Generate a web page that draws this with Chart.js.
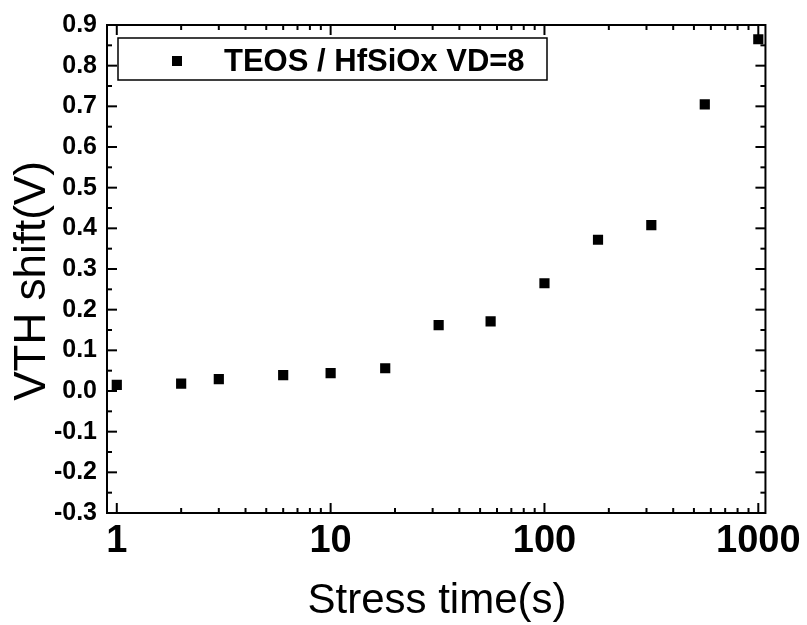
<!DOCTYPE html>
<html>
<head>
<meta charset="utf-8">
<script src="https://cdn.jsdelivr.net/npm/chart.js@4.4.1/dist/chart.umd.min.js"></script>
<style>
	html, body { margin: 0; padding: 0; background: #fff; }
</style>
</head>
<body>
<canvas id="chart" width="807" height="625"></canvas>
<script>
// data
const stressTime = [1, 2, 3, 6, 10, 18, 32, 56, 100, 178, 316, 562, 1000];
const vthShift = [0.015, 0.018, 0.029, 0.039, 0.044, 0.056, 0.162, 0.171, 0.265, 0.372, 0.408, 0.705, 0.865];
const seriesLabel = 'TEOS / HfSiOx VD=8';

const xTickValues = [1, 10, 100, 1000];
const xMinorTicks = [2, 3, 4, 5, 6, 7, 8, 9, 20, 30, 40, 50, 60, 70, 80, 90, 200, 300, 400, 500, 600, 700, 800, 900];
const yTickValues = [-0.3, -0.2, -0.1, 0.0, 0.1, 0.2, 0.3, 0.4, 0.5, 0.6, 0.7, 0.8, 0.9];
const yMinorTicks = [-0.25, -0.15, -0.05, 0.05, 0.15, 0.25, 0.35, 0.45, 0.55, 0.65, 0.75, 0.85];

const xTitle = 'Stress time(s)';
const yTitle = 'VTH shift(V)';

const FONT = '"Liberation Sans", Arial, sans-serif';

let points = stressTime.map((t, i) => ({ x: t, y: vthShift[i] }));

// frame, inward ticks, legend box and axis titles
let framePlugin = {
	id: 'frame',
	afterDraw(chart) {
		let ctx = chart.ctx;
		let a = chart.chartArea;
		let xs = chart.scales.x;
		let ys = chart.scales.y;
		ctx.save();
		ctx.strokeStyle = '#000';
		ctx.lineWidth = 2;
		ctx.strokeRect(a.left, a.top, a.right - a.left, a.bottom - a.top);

		let tick = (x1, y1, x2, y2) => {
			ctx.beginPath();
			ctx.moveTo(x1, y1);
			ctx.lineTo(x2, y2);
			ctx.stroke();
		};
		xTickValues.forEach(v => {
			let px = xs.getPixelForValue(v);
			tick(px, a.bottom, px, a.bottom - 10);
			tick(px, a.top, px, a.top + 10);
		});
		xMinorTicks.forEach(v => {
			let px = xs.getPixelForValue(v);
			tick(px, a.bottom, px, a.bottom - 5);
			tick(px, a.top, px, a.top + 5);
		});
		yTickValues.forEach(v => {
			let py = ys.getPixelForValue(v);
			tick(a.left, py, a.left + 10, py);
			tick(a.right, py, a.right - 10, py);
		});
		yMinorTicks.forEach(v => {
			let py = ys.getPixelForValue(v);
			tick(a.left, py, a.left + 5, py);
			tick(a.right, py, a.right - 5, py);
		});

		// legend
		let lx = a.left + 11;
		let ly = a.top + 13;
		ctx.lineWidth = 1.5;
		ctx.strokeRect(lx, ly, 429, 42);
		ctx.fillStyle = '#000';
		ctx.fillRect(lx + 54, ly + 18, 10, 10);
		ctx.font = 'bold 31px ' + FONT;
		ctx.textAlign = 'left';
		ctx.textBaseline = 'alphabetic';
		ctx.fillText(chart.data.datasets[0].label, lx + 106, ly + 33);

		// axis titles
		ctx.font = '42px ' + FONT;
		ctx.textAlign = 'center';
		ctx.fillText(xTitle, 437, 613);
		ctx.save();
		ctx.translate(45, 281);
		ctx.rotate(-Math.PI / 2);
		ctx.font = '44px ' + FONT;
		ctx.fillText(yTitle, 0, 0);
		ctx.restore();
		ctx.restore();
	}
};

let config = {
	type: 'scatter',
	data: {
		datasets: [{
			label: seriesLabel,
			data: points,
			pointStyle: 'rect',
			pointRadius: 7.2,
			pointBorderWidth: 0,
			backgroundColor: '#000',
			borderColor: '#000'
		}]
	},
	options: {
		responsive: false,
		animation: false,
		devicePixelRatio: 1,
		layout: { padding: { top: 22, right: 40, left: 0, bottom: 0 } },
		plugins: {
			legend: { display: false },
			tooltip: { enabled: false }
		},
		scales: {
			x: {
				type: 'logarithmic',
				min: 0.9,
				max: 1080,
				grid: { display: false, drawTicks: false },
				border: { display: false },
				afterBuildTicks: (scale) => {
					scale.ticks = xTickValues.map(v => ({ value: v, major: true }));
				},
				afterFit: (scale) => { scale.height = 112; },
				ticks: {
					autoSkip: false,
					maxRotation: 0,
					padding: 6,
					color: '#000',
					font: { family: FONT, size: 38, weight: 'bold' },
					callback: (v) => String(v)
				}
			},
			y: {
				min: -0.3,
				max: 0.9,
				grid: { display: false, drawTicks: false },
				border: { display: false },
				afterBuildTicks: (scale) => {
					scale.ticks = yTickValues.map(v => ({ value: v }));
				},
				afterFit: (scale) => { scale.width = 107; },
				ticks: {
					autoSkip: false,
					padding: 10,
					color: '#000',
					font: { family: FONT, size: 25, weight: 'bold' },
					callback: (v) => v.toFixed(1)
				}
			}
		}
	},
	plugins: [framePlugin]
};

let myChart = new Chart(document.getElementById('chart'), config);
</script>
</body>
</html>
